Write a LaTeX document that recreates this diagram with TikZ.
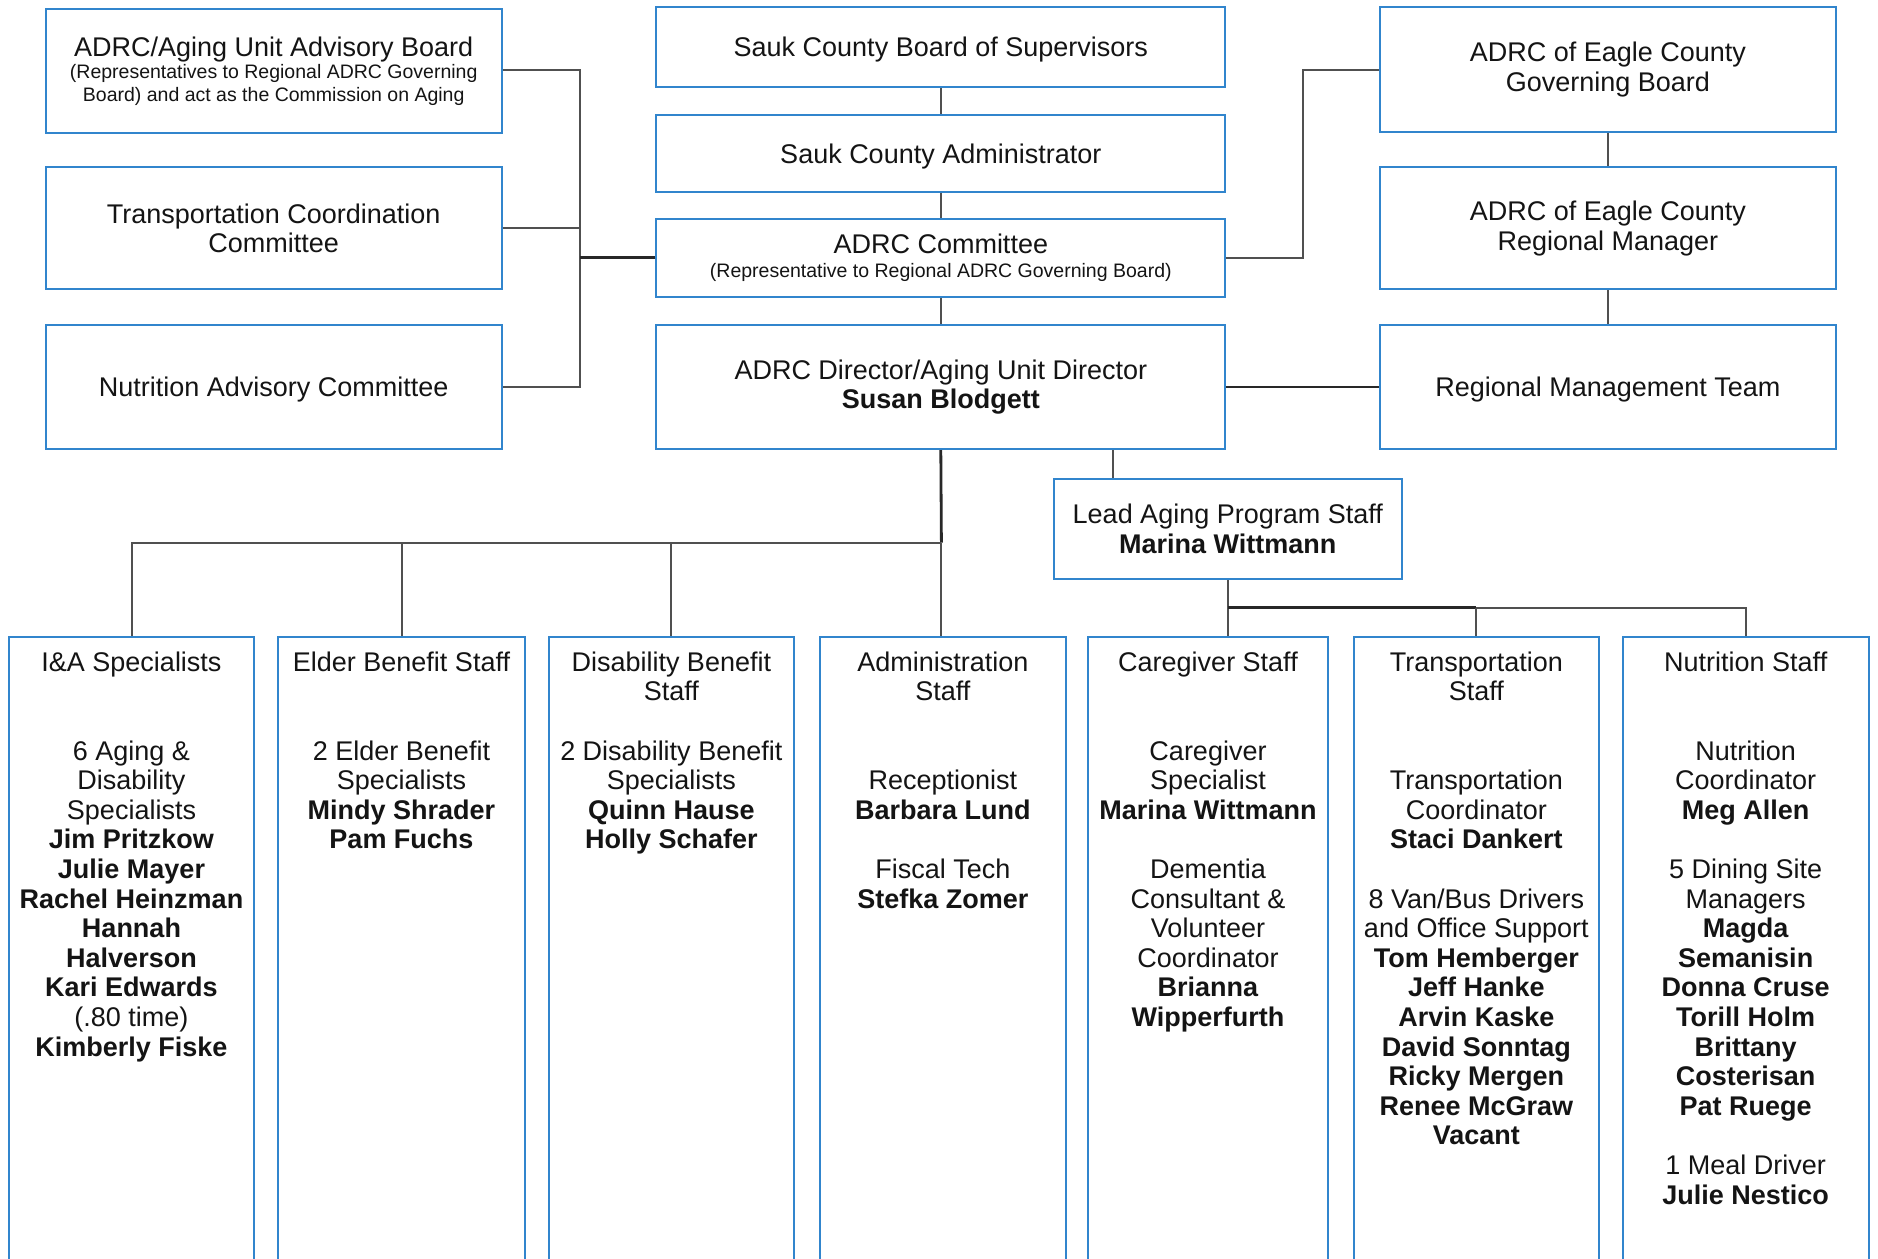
\documentclass[tikz,border=0pt]{standalone}
\usepackage{fontspec}
\setmainfont{Liberation Sans}
\usetikzlibrary{calc}
\definecolor{boxblue}{RGB}{49,133,205}
\definecolor{linegray}{RGB}{80,80,80}
\definecolor{linedark}{RGB}{40,40,40}
\definecolor{txt}{RGB}{20,20,20}
\newcommand{\firststrut}{\rule{0pt}{20pt}}
\newcommand{\tshift}{\rule{0pt}{25pt}}
\begin{document}
\begin{tikzpicture}[x=1pt,y=-1pt,
  box/.style={draw=boxblue, line width=2pt, fill=white, inner sep=0pt, align=center,
              font=\fontsize{27}{29.6}\selectfont, text=txt, execute at begin node=\tshift},
  colbox/.style={draw=boxblue, line width=2pt, fill=white, inner sep=0pt, anchor=north,
              minimum height=700},
  coltext/.style={inner sep=0pt, align=center, anchor=north,
              font=\fontsize{27}{29.6}\selectfont, text=txt},
  conn/.style={draw=linegray, line width=2pt},
  heavy/.style={draw=linedark, line width=2.8pt}]
\fill[white] (0,0) rectangle (1878,1258);
\useasboundingbox (0,0) rectangle (1878,1258);
\clip (0,0) rectangle (1878,1258);

% left column
\node[box, minimum width=456, minimum height=124] (advb) at (273.7,71)
  {ADRC/Aging Unit Advisory Board\\[-7.2pt]{\fontsize{19.5}{22}\selectfont (Representatives to Regional ADRC Governing}\\[-6.9pt]{\fontsize{19.5}{22}\selectfont Board) and act as the Commission on Aging}};
\node[box, minimum width=456, minimum height=122] (tcc) at (273.7,228.2)
  {Transportation Coordination\\Committee};
\node[box, minimum width=456, minimum height=124] (nac) at (273.7,387)
  {Nutrition Advisory Committee};

% center column
\node[box, minimum width=569, minimum height=80] (board) at (940.8,47.3)
  {Sauk County Board of Supervisors};
\node[box, minimum width=569, minimum height=76.7] (admin) at (940.8,153.3)
  {Sauk County Administrator};
\node[box, minimum width=569, minimum height=77.7] (comm) at (940.8,257.8)
  {ADRC Committee\\[-4.8pt]{\fontsize{19.5}{22}\selectfont (Representative to Regional ADRC Governing Board)}};
\node[box, minimum width=569, minimum height=124] (dir) at (940.8,387)
  {ADRC Director/Aging Unit Director\\\textbf{Susan Blodgett}};

% right column
\node[box, minimum width=456, minimum height=124.7] (egb) at (1607.9,69.5)
  {ADRC of Eagle County\\Governing Board};
\node[box, minimum width=456, minimum height=122] (erm) at (1607.9,228.3)
  {ADRC of Eagle County\\Regional Manager};
\node[box, minimum width=456, minimum height=124] (rmt) at (1607.9,387)
  {Regional Management Team};

% lead aging
\node[box, minimum width=348.5, minimum height=100] (lead) at (1227.8,529)
  {Lead Aging Program Staff\\\textbf{Marina Wittmann}};

% bottom columns
\node[colbox, minimum width=245] (ia) at (131.5,636) {};
\node[colbox, minimum width=246.5] (eb) at (401.5,636) {};
\node[colbox, minimum width=245.5] (db) at (671.3,636) {};
\node[colbox, minimum width=246] (as) at (942.8,636) {};
\node[colbox, minimum width=240] (cs) at (1208,636) {};
\node[colbox, minimum width=245.5] (ts) at (1476.3,636) {};
\node[colbox, minimum width=245.7] (ns) at (1745.7,636) {};

\node[coltext] (iat) at ($(ia.north)+(0,15)$)
  {\firststrut I\&A Specialists\\\mbox{}\\\mbox{}\\6 Aging \&\\Disability\\Specialists\\\textbf{Jim Pritzkow}\\\textbf{Julie Mayer}\\\textbf{Rachel Heinzman}\\\textbf{Hannah}\\\textbf{Halverson}\\\textbf{Kari Edwards}\\(.80 time)\\\textbf{Kimberly Fiske}};
\node[coltext] (ebt) at ($(eb.north)+(0,15)$)
  {\firststrut Elder Benefit Staff\\\mbox{}\\\mbox{}\\2 Elder Benefit\\Specialists\\\textbf{Mindy Shrader}\\\textbf{Pam Fuchs}};
\node[coltext] (dbt) at ($(db.north)+(0,15)$)
  {\firststrut Disability Benefit\\Staff\\\mbox{}\\2 Disability Benefit\\Specialists\\\textbf{Quinn Hause}\\\textbf{Holly Schafer}};
\node[coltext] (ast) at ($(as.north)+(0,15)$)
  {\firststrut Administration\\Staff\\\mbox{}\\\mbox{}\\Receptionist\\\textbf{Barbara Lund}\\\mbox{}\\Fiscal Tech\\\textbf{Stefka Zomer}};
\node[coltext] (cst) at ($(cs.north)+(0,15)$)
  {\firststrut Caregiver Staff\\\mbox{}\\\mbox{}\\Caregiver\\Specialist\\\textbf{Marina Wittmann}\\\mbox{}\\Dementia\\Consultant \&\\Volunteer\\Coordinator\\\textbf{Brianna}\\\textbf{Wipperfurth}};
\node[coltext] (tst) at ($(ts.north)+(0,15)$)
  {\firststrut Transportation\\Staff\\\mbox{}\\\mbox{}\\Transportation\\Coordinator\\\textbf{Staci Dankert}\\\mbox{}\\8 Van/Bus Drivers\\and Office Support\\\textbf{Tom Hemberger}\\\textbf{Jeff Hanke}\\\textbf{Arvin Kaske}\\\textbf{David Sonntag}\\\textbf{Ricky Mergen}\\\textbf{Renee McGraw}\\\textbf{Vacant}};
\node[coltext] (nst) at ($(ns.north)+(0,15)$)
  {\firststrut Nutrition Staff\\\mbox{}\\\mbox{}\\Nutrition\\Coordinator\\\textbf{Meg Allen}\\\mbox{}\\5 Dining Site\\Managers\\\textbf{Magda}\\\textbf{Semanisin}\\\textbf{Donna Cruse}\\\textbf{Torill Holm}\\\textbf{Brittany}\\\textbf{Costerisan}\\\textbf{Pat Ruege}\\\mbox{}\\1 Meal Driver\\\textbf{Julie Nestico}};

% connector helper coordinates
\coordinate (lbus) at (579.7,257.8);
\coordinate (rbus) at (1303,257.8);
\coordinate (hbus) at (941.4,542.6);
\coordinate (dlead) at (1112.7,449);
\coordinate (lbus2) at (1227.8,607.5);

% left group
\draw[conn] (advb.east |- 0,69.5) -- (lbus |- 0,69.5) -- (nac.east -| lbus) -- (nac.east);
\draw[conn] (tcc.east) -- (tcc.east -| lbus);
\draw[heavy] (comm.west) -- (lbus);
% right group
\draw[conn] (comm.east) -- (rbus) -- (rbus |- egb.west) -- (egb.west);
% center chain
\draw[conn] (board.south) -- (admin.north);
\draw[conn] (admin.south) -- (comm.north);
\draw[conn] (comm.south) -- (dir.north);
\draw[conn, draw=linedark] (dir.east) -- (rmt.west);
\draw[conn] (egb.south) -- (erm.north);
\draw[conn] (erm.south) -- (rmt.north);
% director to lead
\draw[conn] (dlead |- dir.south) -- (dlead |- lead.north);
% director down to staff
\draw[heavy] (dir.south) -- (hbus);
\draw[conn] (hbus) -- (hbus -| ia.north) -- (ia.north);
\draw[conn] (hbus -| eb.north) -- (eb.north);
\draw[conn] (hbus -| db.north) -- (db.north);
\draw[conn] (hbus) -- (hbus |- as.north);
% lead down to staff
\draw[conn] (lead.south) -- (lead.south |- cs.north);
\draw[heavy] (lbus2) -- (lbus2 -| ts.north);
\draw[conn] (lbus2 -| ts.north) -- (lbus2 -| ns.north) -- (ns.north);
\draw[conn] (lbus2 -| ts.north) -- (ts.north);
\end{tikzpicture}
\end{document}
